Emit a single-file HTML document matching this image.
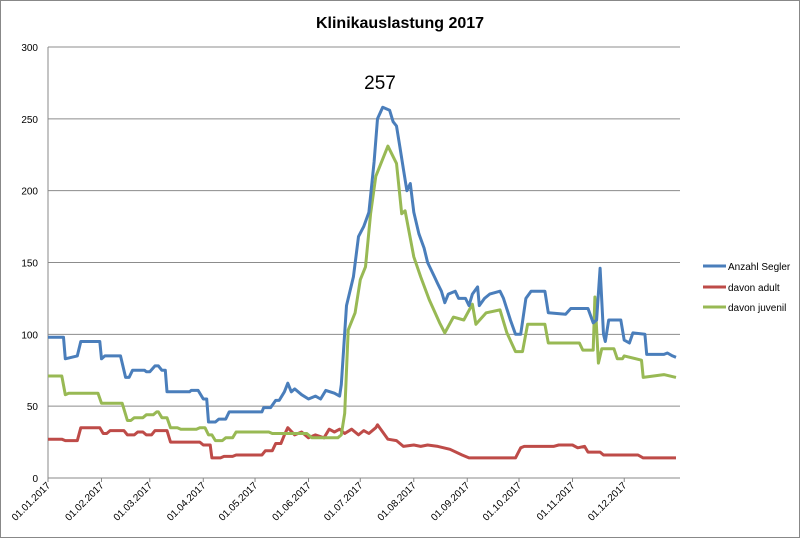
<!DOCTYPE html>
<html><head><meta charset="utf-8"><style>
html,body{margin:0;padding:0;background:#fff}
svg{display:block;font-family:"Liberation Sans",sans-serif}
</style></head><body>
<svg id="chart" width="800" height="538" viewBox="0 0 800 538">
<rect x="0.5" y="0.5" width="799" height="537" fill="#fff" stroke="#888"/>
<text x="400" y="28" text-anchor="middle" font-size="16" font-weight="bold" fill="#000">Klinikauslastung 2017</text>
<text x="380" y="89" text-anchor="middle" font-size="19" fill="#000">257</text>
<g id="grid"></g><g id="axes"></g><g id="series"></g>
<g>
<g><line x1="703" y1="266" x2="726" y2="266" stroke="#4a7ebb" stroke-width="3"/><text x="728" y="270" font-size="10">Anzahl Segler</text></g>
<g><line x1="703" y1="287" x2="726" y2="287" stroke="#be4b48" stroke-width="3"/><text x="728" y="291" font-size="10">davon adult</text></g>
<g><line x1="703" y1="307" x2="726" y2="307" stroke="#98b954" stroke-width="3"/><text x="728" y="311" font-size="10">davon juvenil</text></g>
</g>
</svg>
<script>
const yTicks=[0,50,100,150,200,250,300];
const monthLabels=["01.01.2017","01.02.2017","01.03.2017","01.04.2017","01.05.2017","01.06.2017","01.07.2017","01.08.2017","01.09.2017","01.10.2017","01.11.2017","01.12.2017"];
const monthDays=[0,31,59,90,120,151,181,212,243,273,304,334];
const blueDays=[0,9,10,17,19,30,31,33,42,45,47,49,56,57,59,62,64,66,68,69,82,83,87,90,92,93,97,99,103,105,124,125,129,132,134,137,139,141,143,147,151,155,158,161,166,169,170,173,177,180,183,186,189,191,194,198,200,202,204,206,208,210,212,215,218,220,224,226,228,230,232,236,238,242,244,246,249,250,253,256,262,264,268,271,274,277,280,288,290,300,303,313,316,318,320,322,323,325,332,334,337,339,346,347,357,359,362,364];
const blueVals=[98,98,83,85,95,95,83,85,85,70,70,75,75,74,74,78,78,75,75,60,60,61,61,55,55,39,39,41,41,46,46,49,49,54,54,60,66,60,62,58,55,57,55,61,59,57,65,120,140,168,175,185,220,250,258,256,248,245,230,215,200,205,185,170,160,150,140,135,130,122,128,130,125,125,120,128,133,120,125,128,130,125,110,100,100,125,130,130,115,114,118,118,108,110,146,100,95,110,110,96,94,101,100,86,86,87,85,84];
const greenDays=[0,8,10,12,29,31,43,46,48,50,55,57,61,63,64,66,69,71,75,77,86,88,91,93,95,97,101,103,107,109,128,130,150,153,168,170,172,174,178,181,184,187,190,197,202,205,207,212,216,221,227,230,235,241,246,248,254,262,266,271,275,278,288,290,308,310,316,317,319,321,328,330,333,334,344,345,357,364];
const greenVals=[71,71,58,59,59,52,52,40,40,42,42,44,44,46,46,42,42,35,35,34,34,35,35,30,30,26,26,28,28,32,32,31,31,28,28,30,45,103,115,138,147,184,210,231,219,184,186,154,140,124,108,101,112,110,121,107,115,117,101,88,88,107,107,94,94,89,89,126,80,90,90,83,83,85,82,70,72,70];
const redDays=[0,8,10,17,19,30,32,34,36,44,46,50,52,55,57,60,62,69,71,88,90,94,95,100,102,107,109,124,126,130,132,135,137,139,143,147,151,155,160,163,166,169,172,176,180,183,186,190,191,194,197,202,206,212,216,220,226,233,240,244,271,274,276,293,296,304,307,311,313,320,322,342,345,364];
const redVals=[27,27,26,26,35,35,31,31,33,33,30,30,32,32,30,30,33,33,25,25,23,23,14,14,15,15,16,16,19,19,24,24,30,35,30,32,28,30,28,34,32,34,31,34,30,33,31,35,37,32,27,26,22,23,22,23,22,20,16,14,14,21,22,22,23,23,21,22,18,18,16,16,14,14];
const x0=48,x1=676,yTop=47,yBot=478;
const xs=d=>x0+d*(x1-x0)/364;
const ys=v=>yBot-v*(yBot-yTop)/300;
const NS="http://www.w3.org/2000/svg";
const grid=document.getElementById('grid'),axes=document.getElementById('axes'),ser=document.getElementById('series');
yTicks.forEach(t=>{
 const l=document.createElementNS(NS,'line');
 l.setAttribute('x1',x0);l.setAttribute('x2',680);l.setAttribute('y1',ys(t));l.setAttribute('y2',ys(t));
 l.setAttribute('stroke',t===0?'#888':'#8c8c8c');l.setAttribute('stroke-width','1');
 
 
 grid.appendChild(l);
 const tx=document.createElementNS(NS,'text');
 tx.setAttribute('x',38);tx.setAttribute('y',ys(t)+4);tx.setAttribute('text-anchor','end');tx.setAttribute('font-size','10');
 tx.textContent=t;
 
 
 axes.appendChild(tx);
});
const ya=document.createElementNS(NS,'line');
ya.setAttribute('x1',x0);ya.setAttribute('x2',x0);ya.setAttribute('y1',yTop);ya.setAttribute('y2',yBot);ya.setAttribute('stroke','#888');


axes.appendChild(ya);
monthDays.forEach((d,i)=>{
 const x=xs(d);
 const tk=document.createElementNS(NS,'line');
 tk.setAttribute('x1',x);tk.setAttribute('x2',x);tk.setAttribute('y1',yBot);tk.setAttribute('y2',yBot+4);tk.setAttribute('stroke','#888');
 
 
 axes.appendChild(tk);
 const tx=document.createElementNS(NS,'text');
 tx.setAttribute('x',x+3);tx.setAttribute('y',yBot+8);tx.setAttribute('text-anchor','end');tx.setAttribute('font-size','10');
 tx.setAttribute('transform','rotate(-45 '+(x+3)+' '+(yBot+8)+')');
 tx.textContent=monthLabels[i];
 
 
 axes.appendChild(tx);
});
function draw(days,vals,color,name){
 const p=document.createElementNS(NS,'polyline');
 p.setAttribute('points',days.map((d,i)=>xs(d).toFixed(1)+','+ys(vals[i]).toFixed(1)).join(' '));
 p.setAttribute('fill','none');p.setAttribute('stroke',color);p.setAttribute('stroke-width','3');p.setAttribute('stroke-linejoin','round');
 
 
 ser.appendChild(p);
}
draw(redDays,redVals,'#be4b48','series-adult-line');
draw(greenDays,greenVals,'#98b954','series-juvenil-line');
draw(blueDays,blueVals,'#4a7ebb','series-anzahl-line');
</script>
</body></html>
